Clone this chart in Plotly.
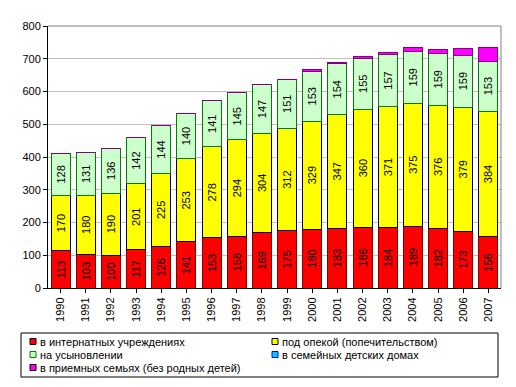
import plotly.graph_objects as go

years = [str(y) for y in range(1990, 2008)]
internat = [113, 103, 100, 117, 126, 141, 153, 158, 169, 175, 180, 183, 186, 184, 189, 182, 173, 156]
opeka = [170, 180, 190, 201, 225, 253, 278, 294, 304, 312, 329, 347, 360, 371, 375, 376, 379, 384]
usyn = [128, 131, 136, 142, 144, 140, 141, 145, 147, 151, 153, 154, 155, 157, 159, 159, 159, 153]
sdd = [0, 0, 0, 0, 0, 0, 0, 0, 0, 0, 0, 1, 0, 0, 0, 0, 0, 0]
priem = [0, 0, 0, 0, 0, 0, 0, 0, 0, 0, 4, 5, 6, 8, 10, 12, 21, 40]

names = ["в интернатных учреждениях", "под опекой (попечительством)", "на усыновлении",
         "в семейных детских домах", "в приемных семьях (без родных детей)"]
series = [internat, opeka, usyn, sdd, priem]
fills = ["#FF0000", "#FFFF00", "#CCFFCC", "#00CCFF", "#FF00FF"]
lines = ["#800000", "#000000", "#008000", "#0000FF", "#800080"]
legend_lines = ["#000000", "#000000", "#008000", "#0000FF", "#000000"]
labeled = [True, True, True, False, False]

W, H = 516, 387
L, R, T, B = 48, 15, 26, 99
PW, PH = W - L - R, H - T - B


def px(xpix):
    return (xpix - L) / PW


def py(ypix):
    return (H - B - ypix) / PH


fnt = "Arial, 'Liberation Sans', sans-serif"
fig = go.Figure()
for nm, vals, fc, lc, lab in zip(names, series, fills, lines, labeled):
    fig.add_trace(go.Bar(
        x=years, y=vals, name=nm,
        marker=dict(color=fc, line=dict(color=lc, width=1)),
        text=[str(v) for v in vals] if lab else None,
        textposition="inside" if lab else "none",
        insidetextanchor="middle",
        textangle=-90,
        textfont=dict(family=fnt, size=11, color="black"),
        constraintext="none",
        hoverinfo="x+y+name",
        showlegend=False,
    ))

fig.update_layout(
    barmode="stack",
    bargap=0.25,
    width=W, height=H,
    margin=dict(l=L, r=R, t=T, b=B, autoexpand=False),
    paper_bgcolor="white",
    plot_bgcolor="white",
    font=dict(family=fnt, size=11, color="black"),
    xaxis=dict(
        type="category", tickangle=-90, showline=True, linecolor="black",
        linewidth=1, mirror=False, ticks="outside", ticklen=4, tickcolor="black",
        tickfont=dict(size=11), showgrid=False,
    ),
    yaxis=dict(
        range=[0, 800], dtick=100, showline=True, linecolor="black", linewidth=1,
        ticks="outside", ticklen=4, tickcolor="black",
        showgrid=True, gridcolor="#C0C0C0", gridwidth=1, zeroline=False,
        tickfont=dict(size=11),
    ),
    showlegend=False,
)
# grey frame top and right
fig.add_shape(type="line", xref="paper", yref="paper", x0=0, x1=1, y0=1, y1=1,
              line=dict(color="#808080", width=1))
fig.add_shape(type="line", xref="paper", yref="paper", x0=1, x1=1, y0=0, y1=1,
              line=dict(color="#808080", width=1))

# legend box (drawn manually, two columns like the original)
fig.add_shape(type="rect", xref="paper", yref="paper",
              x0=px(21), x1=px(498), y0=py(377), y1=py(333),
              line=dict(color="black", width=1), fillcolor="white")
col_x = [30, 272]
row_y = [341.5, 354.5, 367.5]
for i, (nm, fc, lc) in enumerate(zip(names, fills, legend_lines)):
    cx = col_x[i % 2]
    cy = row_y[i // 2]
    fig.add_shape(type="rect", xref="paper", yref="paper",
                  x0=px(cx), x1=px(cx + 6), y0=py(cy + 3), y1=py(cy - 3),
                  line=dict(color=lc, width=1), fillcolor=fc)
    fig.add_annotation(xref="paper", yref="paper", x=px(cx + 9), y=py(cy),
                       text=nm, showarrow=False, xanchor="left", yanchor="middle",
                       font=dict(family=fnt, size=11, color="black"),
                       borderpad=0)

fig.write_html("out.html", config={"displayModeBar": False},
               post_script="document.body.style.margin='0';")
